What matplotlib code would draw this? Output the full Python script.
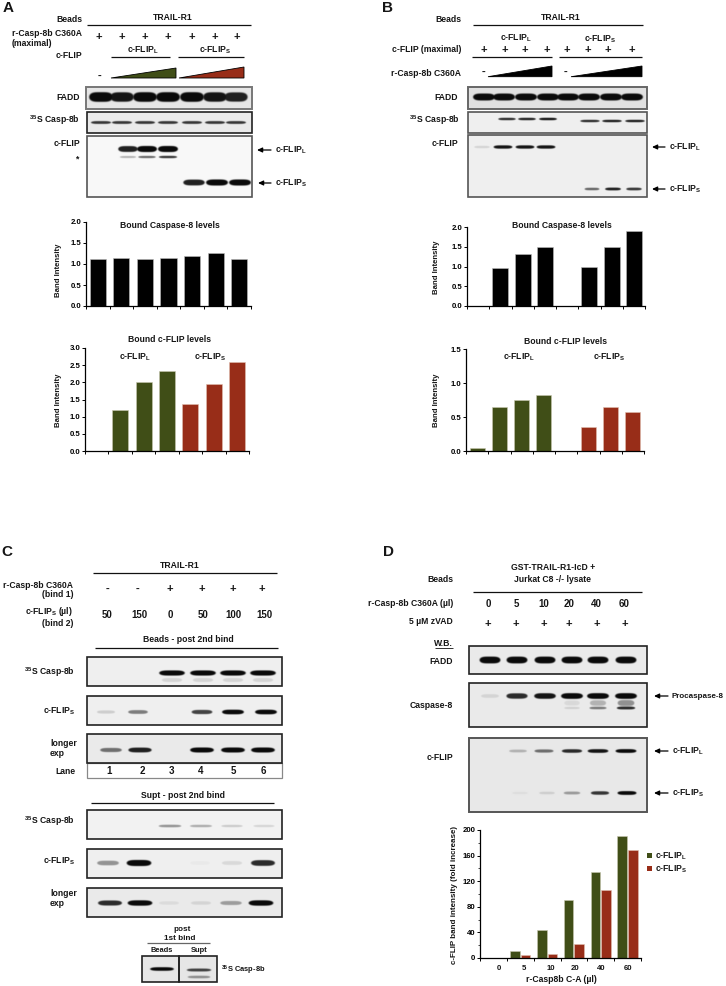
import matplotlib
matplotlib.use('Agg')
import matplotlib.pyplot as plt
from matplotlib.patches import Rectangle, Polygon
import numpy as np

plt.rcParams['font.family'] = ['Liberation Sans', 'DejaVu Sans']
plt.rcParams['font.weight'] = 'bold'
plt.rcParams['mathtext.fontset'] = 'custom'
plt.rcParams['mathtext.bf'] = 'Liberation Sans:bold'
plt.rcParams['mathtext.rm'] = 'Liberation Sans:bold'

W, H = 726, 986
GREEN = '#404e17'
RED = '#982d18'

# bar chart values
a_casp8 = [1.12, 1.14, 1.12, 1.14, 1.19, 1.25, 1.13]
a_flip_green = [0, 1.2, 2.0, 2.33]
a_flip_red = [1.37, 1.96, 2.6]
b_casp8 = [0, 0.97, 1.31, 1.5, 0, 1.0, 1.5, 1.9]
b_flip_green = [0.05, 0.65, 0.75, 0.82]
b_flip_red = [0, 0.35, 0.64, 0.57]
d_doses = ['0', '5', '10', '20', '40', '60']
d_flip_l = [0.5, 11, 43, 91, 135, 191]
d_flip_s = [0.3, 4, 6, 22, 107, 169]

# blot band strengths per lane, 0 to 1
a_fadd = [1, .95, 1, 1, 1, .95, .9]
a_s35 = [.8, .8, .8, .8, .8, .8, .8]
a_flip_l = [.9, 1, 1]
a_flip_star = [.3, .6, .8]
a_flip_s = [.9, 1, 1]
b_fadd = [1, 1, 1, 1, 1, 1, 1, 1]
b_s35_l = [.85, .9, .95]
b_s35_s = [.85, .9, .9]
b_flip_l = [.12, .95, .95, .95]
b_flip_s = [.6, .9, .8]
c_s35 = [1, 1, 1, 1]
c_s35_smear = [.12, .12, .12, .12]
c_flip = [.15, .5, .75, 1, 1]
c_long = [.55, .9, 1, 1, 1]
c2_s35 = [.4, .3, .17, .13]
c2_flip = [.4, 1, .03, .1, .85]
c2_long = [.85, 1, .07, .1, .35, 1]
c3_s35 = [1, .75, .4]
d_fadd = [1, 1, 1, 1, 1, 1]
d_pro = [.1, .85, .95, 1, 1, 1]
d_smear = [.08, .25, .4]
d_cleaved = [.12, .5, .85]
d_flip_band_l = [.25, .55, .85, .95, 1]
d_flip_band_s = [.05, .12, .35, .8, 1]

fig = plt.figure(figsize=(W / 100, H / 100), dpi=100, facecolor='white')
ov = fig.add_axes([0, 0, 1, 1])
ov.set_xlim(0, W)
ov.set_ylim(H, 0)
ov.set_autoscale_on(False)
ov.axis('off')


def t(x, y, s, ha='center', size=6.2, **kw):
    ov.text(x, y, s, ha=ha, va='center', fontsize=size, fontweight='bold', color='#151515', **kw)


def hline(x0, x1, y, color='#111111', lw=0.9):
    ov.plot([x0, x1], [y, y], color=color, lw=lw, solid_capstyle='butt')


def signs(xs, y, marks='+', size=8):
    for i, x in enumerate(xs):
        m = marks if len(marks) == 1 else marks[i]
        t(x, y, m, size=size)


def wedge(x0, x1, ytop, ybot, color):
    ov.add_patch(Polygon([(x0, ybot), (x1, ytop), (x1, ybot)], closed=True,
                         facecolor=color, edgecolor='black', lw=0.6))


def arrow(x_tail, x_head, y):
    ov.annotate('', xy=(x_head, y), xytext=(x_tail, y),
                arrowprops=dict(arrowstyle='-|>,head_length=0.3,head_width=0.14', color='black',
                                lw=0.9, shrinkA=0, shrinkB=0))


def blur(a, n):
    k = np.ones(n) / n
    a = np.apply_along_axis(lambda r: np.convolve(r, k, mode='same'), 0, a)
    return np.apply_along_axis(lambda r: np.convolve(r, k, mode='same'), 1, a)


def gel(x0, x1, y0, y1, rows, edge='#222222', bg=0.95, lw=1.2):
    # rows: (lane x, band y, strengths, half width, half height)
    s = 4
    nx, ny = int((x1 - x0) * s), int((y1 - y0) * s)
    xx = x0 + (np.arange(nx) + 0.5) / s
    yy = y0 + (np.arange(ny) + 0.5) / s
    X, Y = np.meshgrid(xx, yy)
    dark = np.zeros_like(X)
    for xs, y, vals, hw, hh in rows:
        for cx, v in zip(xs, vals):
            w = hw * (0.8 + 0.2 * v)
            h = hh * (0.55 + 0.45 * v) + 0.4
            d = (np.abs(X - cx) / w) ** 4 + (np.abs(Y - y) / h) ** 2
            dark = np.maximum(dark, v * np.clip((1 - d) / 0.4, 0, 1))
    dark = blur(dark, 5)
    img = bg * (1 - dark) + 0.04 * dark
    ov.imshow(img, extent=(x0, x1, y1, y0), cmap='gray', vmin=0, vmax=1, aspect='auto', zorder=1)
    ov.add_patch(Rectangle((x0, y0), x1 - x0, y1 - y0, fill=False, edgecolor=edge, lw=lw, zorder=2))


def chart(x0, x1, y0, y1, ymax, step, fmt='%.1f'):
    ax = fig.add_axes([x0 / W, 1 - y1 / H, (x1 - x0) / W, (y1 - y0) / H])
    ax.patch.set_alpha(0)
    ax.set_ylim(0, ymax)
    ax.set_yticks(np.arange(0, ymax + step / 2, step))
    ax.set_yticklabels([fmt % v for v in np.arange(0, ymax + step / 2, step)], fontsize=5.6, fontweight='bold')
    for side in ['top', 'right']:
        ax.spines[side].set_visible(False)
    for side in ['left', 'bottom']:
        ax.spines[side].set_linewidth(0.9)
    ax.tick_params(axis='y', length=2, width=0.7, pad=1.5)
    ax.tick_params(axis='x', length=2, width=0.7)
    return ax


def cats(ax, n):
    ax.set_xlim(-0.5, n - 0.5)
    ax.set_xticks(np.arange(n + 1) - 0.5)
    ax.set_xticklabels([])


def ylab(x, y, s, size=5.6):
    t(x, y, s, size=size, rotation=90)


L = r'c-FLIP$_{\mathbf{L}}$'
S = r'c-FLIP$_{\mathbf{S}}$'
S35 = r'$^{\mathbf{35}}$S Casp-8b'

###############################################################################
# A
t(3, 8, 'A', ha='left', size=11)
t(82, 19, 'Beads', ha='right')
t(173, 18, 'TRAIL-R1')
hline(87, 251, 24.7)
t(82, 33, 'r-Casp-8b C360A', ha='right')
t(12, 44, '(maximal)', ha='left')
signs([99, 122, 145, 168, 192, 215, 237], 37)
t(82, 56, 'c-FLIP', ha='right')
t(143, 50, L)
t(215, 50, S)
hline(111, 170, 57)
hline(178, 244, 57)
t(100, 76, '-', size=8)
wedge(111, 176, 68, 78, GREEN)
wedge(179, 244, 67, 78, RED)

lanes_a = [101, 122, 145, 168, 192, 215, 236]
gel(86, 252, 87, 109, [(lanes_a, 97, a_fadd, 12.5, 5)], edge='#777777', bg=0.9, lw=1.4)
gel(87, 252, 112, 133, [(lanes_a, 122.5, a_s35, 11, 1.3)], bg=0.92)
gel(87, 252, 136, 197, [([128, 147, 168], 149, a_flip_l, 10.5, 3),
                        ([128, 147, 168], 157, a_flip_star, 10, 1),
                        ([194, 217, 240], 182.5, a_flip_s, 11.5, 3)], edge='#555555', bg=0.97)
t(80, 97, 'FADD', ha='right')
t(80, 120, S35, ha='right')
t(80, 143, 'c-FLIP', ha='right')
t(78, 159, '*')
arrow(271, 257, 150)
arrow(271, 258, 183)
t(275, 150, L, ha='left')
t(275, 183, S, ha='left')

ax = chart(86, 251, 222, 306, 2.0, 0.5)
ax.bar(np.arange(len(a_casp8)), a_casp8, 0.68, color='black', edgecolor='#bbbbbb', lw=0.4)
cats(ax, 7)
t(170, 225.6, 'Bound Caspase-8 levels')
ylab(59, 270, 'Band Intensity')

ax = chart(85, 249, 348, 451, 3.0, 0.5)
ax.bar(np.arange(4), a_flip_green, 0.68, color=GREEN, edgecolor='#c8c8b0', lw=0.4)
ax.bar(np.arange(4, 7), a_flip_red, 0.68, color=RED, edgecolor='#e0c0b0', lw=0.4)
cats(ax, 7)
t(169, 340, 'Bound c-FLIP levels')
t(135, 357, L)
t(210, 357, S)
ylab(59, 400, 'Band Intensity')

###############################################################################
# B
t(382, 8, 'B', ha='left', size=11)
t(461, 20, 'Beads', ha='right')
t(561, 18, 'TRAIL-R1')
hline(473, 643, 25)
t(516, 38, L)
t(600, 39, S)
t(461, 50, 'c-FLIP (maximal)', ha='right')
signs([484, 505, 525, 547, 567, 588, 608, 632], 50)
hline(472, 552, 57)
hline(559, 642, 57)
t(461, 73, 'r-Casp-8b C360A', ha='right')
t(484, 72, '-', size=8)
t(566, 72, '-', size=8)
wedge(488, 552, 66, 76.7, 'black')
wedge(571, 642, 66, 76.7, 'black')

gel(468, 647, 87, 109, [([484, 504, 526, 548, 568, 589, 611, 632], 97, b_fadd, 11.5, 3.5)],
    edge='#666666', bg=0.88, lw=1.4)
gel(468, 647, 112, 133, [([507, 527, 548], 119, b_s35_l, 9.5, 1),
                         ([590, 612, 635], 121, b_s35_s, 10.5, 1)], edge='#555555', bg=0.94)
gel(468, 647, 135, 197, [([482, 503, 525, 546], 147, b_flip_l, 10, 1.5),
                         ([592, 613, 634], 189, b_flip_s, 8.5, 1.2)], edge='#555555', bg=0.94)
t(458, 97, 'FADD', ha='right')
t(460, 120, S35, ha='right')
t(458, 143, 'c-FLIP', ha='right')
arrow(665, 652, 147)
arrow(665, 652, 189)
t(669, 147, L, ha='left')
t(669, 189, S, ha='left')

ax = chart(467, 645, 227, 306, 2.0, 0.5)
ax.bar(np.arange(len(b_casp8)), b_casp8, 0.73, color='black', edgecolor='#bbbbbb', lw=0.4)
cats(ax, 8)
t(562, 225.7, 'Bound Caspase-8 levels')
ylab(437, 267, 'Band Intensity')

ax = chart(466, 644, 349, 451, 1.5, 0.5)
ax.bar(np.arange(4), b_flip_green, 0.68, color=GREEN, edgecolor='#c8c8b0', lw=0.4)
ax.bar(np.arange(4, 8), b_flip_red, 0.68, color=RED, edgecolor='#e0c0b0', lw=0.4)
cats(ax, 8)
t(566, 341, 'Bound c-FLIP levels')
t(519, 357, L)
t(609, 357, S)
ylab(437, 400, 'Band Intensity')

###############################################################################
# C
t(1, 552, 'C', ha='left', size=11)
t(180, 566, 'TRAIL-R1')
hline(93, 277, 573)
t(73, 586, 'r-Casp-8b C360A', ha='right')
t(73, 594.5, '(bind 1)', ha='right')
signs([107, 138, 170, 202, 233, 262], 589, marks='--++++')
t(73, 612, r'c-FLIP$_{\mathbf{S}}$ (µl)', ha='right')
t(73, 623, '(bind 2)', ha='right')
for x, s in zip([107, 139, 170, 203, 233, 264], ['50', '150', '0', '50', '100', '150']):
    t(x, 615, s, size=7)
t(188, 639, 'Beads - post 2nd bind')
hline(95, 278, 648)

gel(87, 282, 657, 686, [([172, 203, 233, 263], 673, c_s35, 13.5, 2.5),
                        ([172, 203, 233, 263], 680, c_s35_smear, 13, 3)], bg=0.94)
gel(87, 282, 696, 725, [([106, 138, 202, 233, 266], 712, c_flip, 11.5, 2.2)], bg=0.94)
gel(87, 282, 734, 763, [([111, 140, 202, 233, 263], 750, c_long, 12.5, 2.4)], bg=0.92)
t(75, 672, S35, ha='right')
t(75, 711, S, ha='right')
t(50, 744, 'longer', ha='left')
t(50, 754, 'exp', ha='left')

ov.add_patch(Rectangle((87, 763), 195, 15, fill=False, edgecolor='#888888', lw=0.9))
t(75, 772, 'Lane', ha='right')
for x, s in zip([109, 142, 171, 201, 233, 263], ['1', '2', '3', '4', '5', '6']):
    t(x, 771.5, s, size=7)

t(183, 796, 'Supt - post 2nd bind')
hline(91, 274, 802.5)
gel(87, 282, 810, 839, [([170, 201, 232, 264], 826, c2_s35, 13.5, 1.4)], bg=0.95)
gel(87, 282, 849, 878, [([108, 139, 200, 232, 263], 863, c2_flip, 13, 3)], bg=0.94)
gel(87, 282, 888, 917, [([110, 140, 169, 201, 231, 261], 903, c2_long, 13, 2.6)], bg=0.92)
t(75, 821, S35, ha='right')
t(75, 861, S, ha='right')
t(50, 894, 'longer', ha='left')
t(50, 904, 'exp', ha='left')

t(182, 929.5, 'post', size=5.9)
t(180, 938, '1st bind', size=5.9)
hline(147, 210, 943, color='#666666')
t(162, 951, 'Beads', size=5.4)
t(199, 951, 'Supt', size=5.4)
gel(142, 179, 956, 982, [([162], 969, c3_s35[:1], 12.5, 1.6)], bg=0.9)
gel(179, 217, 956, 982, [([199], 970, c3_s35[1:2], 13.5, 1.4),
                         ([199], 977, c3_s35[2:], 13.5, 1.4)], bg=0.9)
t(221, 970, S35, ha='left', size=5.4)

###############################################################################
# D
t(383, 552, 'D', ha='left', size=11)
t(553, 568, 'GST-TRAIL-R1-IcD +')
t(553, 579, 'Jurkat C8 -/- lysate')
hline(473, 642, 592)
t(453, 579, 'Beads', ha='right')
t(453, 604, 'r-Casp-8b C360A (µl)', ha='right')
for x, s in zip([488, 516, 544, 569, 596, 624], d_doses):
    t(x, 604, s, size=7)
t(453, 622, '5 µM zVAD', ha='right')
signs([488, 516, 544, 569, 597, 625], 624)
t(453, 643, 'W.B.', ha='right')
hline(435, 453, 648, lw=0.6)

gel(469, 647, 646, 674, [([490, 517, 545, 572, 598, 626], 660, d_fadd, 11, 3.4)], bg=0.92)
gel(469, 647, 683, 727, [([490, 517, 545, 572, 598, 626], 696, d_pro, 11.5, 2.8),
                         ([572, 598, 626], 703, d_smear, 10, 4),
                         ([572, 598, 626], 708, d_cleaved, 10, 1.3)], bg=0.92)
gel(469, 647, 738, 812, [([518, 544, 572, 598, 626], 751, d_flip_band_l, 11, 1.7),
                         ([520, 547, 572, 600, 627], 793, d_flip_band_s, 10, 1.7)],
    edge='#555555', bg=0.91, lw=1.4)
t(453, 662, 'FADD', ha='right')
t(453, 705, 'Caspase-8', ha='right')
t(453, 757, 'c-FLIP', ha='right')
arrow(668, 654, 696)
arrow(668, 654, 751)
arrow(668, 654, 793)
t(671, 696, 'Procaspase-8', ha='left', size=5.8)
t(672, 751, L, ha='left')
t(672, 793, S, ha='left')

ax = chart(480, 641, 830, 958, 200, 40, fmt='%d')
pos = np.arange(len(d_doses))
ax.bar(pos - 0.2, d_flip_l, 0.36, color=GREEN, edgecolor='#c8c8b0', lw=0.4)
ax.bar(pos + 0.2, d_flip_s, 0.36, color=RED, edgecolor='#e0c0b0', lw=0.4)
ax.set_yticks(np.arange(0, 201, 20), minor=True)
ax.tick_params(axis='y', which='minor', length=1.2, width=0.5)
cats(ax, 6)
for x, s in zip([499, 524, 551, 575, 601, 628], d_doses):
    t(x, 968, s, size=5.6)
t(561, 980, 'r-Casp8b C-A (µl)', size=6.2)
ylab(454, 895, 'c-FLIP band intensity (fold increase)', size=5.8)
ov.add_patch(Rectangle((647, 853), 5, 5, facecolor=GREEN, edgecolor='none'))
ov.add_patch(Rectangle((647, 866), 5, 5, facecolor=RED, edgecolor='none'))
t(655, 856, L, ha='left')
t(655, 869, S, ha='left')

fig.savefig('out.png', dpi=100)
